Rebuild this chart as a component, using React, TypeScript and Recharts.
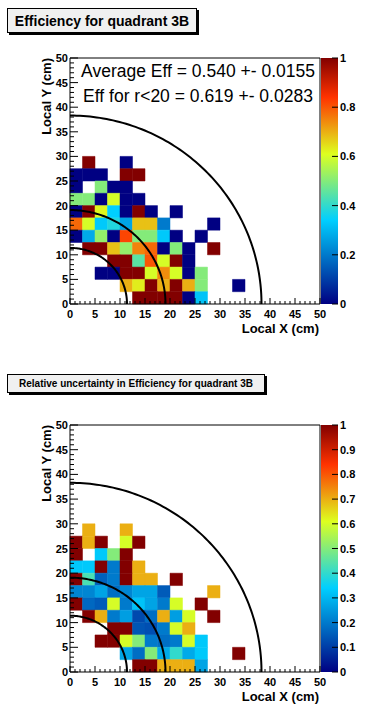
import React from "react";
import { ComposedChart, XAxis, YAxis, ReferenceArea, Line } from "recharts";

// --- Data ---

const N = null;
const BIN = 2.5; // cm per bin

// efficiency per 2.5 cm bin; rows from y=27.5..30 (top) down to y=0..2.5, columns from x=0
const effGrid: (number | null)[][] = [
  [N, 1, N, N, 0, N, N, N, N, N, N, N, N, N],
  [0, 0, 0, N, 1, 1, N, N, N, N, N, N, N, N],
  [0, N, 0.5, 0, 0, N, N, N, N, N, N, N, N, N],
  [0.5, 0.5, 0, 0.6, 0, 0, N, N, N, N, N, N, N, N],
  [0, 1, 0.62, 0.34, 0, 1, 0, N, 0, N, N, N, N, N],
  [0.78, 0.6, 0.33, 0.38, 0.27, 0.68, 0.68, 0.2, N, N, N, 0, N, N],
  [0, 0.28, 0.52, 0, 0.82, 0.5, 0.5, 0.33, 0, N, 0, N, N, N],
  [N, 1, 1, 0.68, 0.52, 0.75, 0.78, 0, 0.5, 0, N, 1, N, N],
  [N, N, N, 1, 1, 0.45, 0.8, 0.6, 1, 0, N, N, N, N],
  [N, N, 0, 0, 1, 1, 0.6, 0.74, 0.6, 0, 0.5, N, N, N],
  [N, N, N, N, 0.7, 0.63, 1, 0.7, 1, 0.7, 0.5, N, N, 0],
  [N, N, N, N, N, 1, 1, 1, 1, 0, 0.32, N, N, N],
];

// relative uncertainty, same binning
const uncGrid: (number | null)[][] = [
  [N, 0.7, N, N, 0.7, N, N, N, N, N, N, N, N, N],
  [1, 0.7, 1, N, 0.6, 1, N, N, N, N, N, N, N, N],
  [1, N, 0.33, 0.5, 1, N, N, N, N, N, N, N, N, N],
  [0.33, 0.33, 1, 0.2, 1, 0.7, N, N, N, N, N, N, N, N],
  [1, 0.43, 0.16, 0.2, 1, 0.7, 0.7, N, 1, N, N, N, N, N],
  [0.22, 0.22, 0.27, 0.18, 0.22, 0.27, 0.27, 0.15, N, N, N, 0.7, N, N],
  [1, 0.17, 0.15, 0.6, 0.2, 0.32, 0.27, 0.2, 0.6, N, 1, N, N, N],
  [N, 1, 0.7, 0.2, 0.26, 0.12, 0.18, 0.7, 0.26, 0.6, N, 1, N, N],
  [N, N, N, 1, 1, 0.14, 0.13, 0.2, 0.6, 0.7, N, N, N, N],
  [N, N, 1, 1, 0.6, 0.5, 0.2, 0.18, 0.2, 0.6, 0.33, N, N, N],
  [N, N, N, N, 0.27, 0.18, 0.5, 0.28, 0.4, 0.28, 0.33, N, N, 1],
  [N, N, N, N, N, 1, 1, 0.7, 0.7, 0.7, 0.27, N, N, N],
];

const arcRadii = [11.4, 19.1, 38.3];
const majorTicks = [0, 5, 10, 15, 20, 25, 30, 35, 40, 45, 50];
const effTicks = [0, 0.2, 0.4, 0.6, 0.8, 1];
const uncTicks = [0, 0.1, 0.2, 0.3, 0.4, 0.5, 0.6, 0.7, 0.8, 0.9, 1];
const statLines = ["Average Eff = 0.540 +- 0.0155", "Eff for r<20 = 0.619 +- 0.0283"];

// ROOT gradient palette
const palStops = [0, 0.34, 0.61, 0.84, 1];
const palRGB = [
  [0, 0, 130],
  [0, 207, 255],
  [222, 255, 31],
  [255, 51, 0],
  [130, 0, 0],
];

// --- Helpers ---

const axisTicks = majorTicks.flatMap((m, i) =>
  i === majorTicks.length - 1 ? [m] : [m, m + 1, m + 2, m + 3, m + 4]
);

function palColor(v: number) {
  let k = 0;
  while (k < palStops.length - 2 && v > palStops[k + 1]) k++;
  const t = Math.min(1, Math.max(0, (v - palStops[k]) / (palStops[k + 1] - palStops[k])));
  const c = palRGB[k].map((a, i) => Math.round(a + (palRGB[k + 1][i] - a) * t));
  return `rgb(${c[0]},${c[1]},${c[2]})`;
}

function toCells(grid: (number | null)[][]) {
  const top = grid.length - 1;
  const out: { x1: number; x2: number; y1: number; y2: number; v: number }[] = [];
  grid.forEach((row, r) =>
    row.forEach((v, c) => {
      if (v === null) return;
      const j = top - r;
      out.push({ x1: c * BIN, x2: (c + 1) * BIN, y1: j * BIN, y2: (j + 1) * BIN, v });
    })
  );
  return out;
}

function arcPoints(r: number) {
  const pts = [];
  for (let k = 0; k <= 90; k++) {
    const a = (k * Math.PI) / 180;
    pts.push({ x: r * Math.cos(a), y: r * Math.sin(a) });
  }
  return pts;
}

const XTick = (p: any) => {
  const v = p.payload.value;
  const major = v % 5 === 0;
  return (
    <g>
      <line x1={p.x} x2={p.x} y1={p.y} y2={p.y - (major ? 6 : 3)} stroke="#000" />
      {major && (
        <text x={p.x} y={p.y + 14} textAnchor="middle" fontSize={11} fontWeight="bold" fill="#000">
          {v}
        </text>
      )}
    </g>
  );
};

const YTick = (p: any) => {
  const v = p.payload.value;
  const major = v % 5 === 0;
  return (
    <g>
      <line x1={p.x} x2={p.x + (major ? 8 : 4)} y1={p.y} y2={p.y} stroke="#000" />
      {major && (
        <text x={p.x - 2} y={p.y + 4} textAnchor="end" fontSize={11} fontWeight="bold" fill="#000">
          {v}
        </text>
      )}
    </g>
  );
};

const CbTick = (p: any) => (
  <g>
    <line x1={p.x - 6} x2={p.x} y1={p.y} y2={p.y} stroke="#000" />
    <text x={p.x + 2} y={p.y + 4} textAnchor="start" fontSize={11} fontWeight="bold" fill="#000">
      {p.payload.value}
    </text>
  </g>
);

// --- Panel ---

function Panel(props: {
  top: number;
  height: number;
  plotBottom: number;
  grid: (number | null)[][];
  cbTicks: number[];
  title: string;
  titleBox: { left: number; top: number; width: number; height: number; size: number };
  stats?: string[];
}) {
  const { top, height, plotBottom, grid, cbTicks, title, titleBox, stats } = props;
  const cells = toCells(grid);
  const bottom = height - plotBottom;
  const cbData = cbTicks.map((v) => ({ x: v, y: v }));
  return (
    <div style={{ position: "absolute", left: 0, top, width: 381, height }}>
      <div style={{ position: "absolute", left: 0, top: 0 }}>
        <ComposedChart width={381} height={height} margin={{ top: 58, right: 61, bottom: bottom - 20, left: 40 }}>
          <XAxis
            type="number"
            dataKey="x"
            domain={[0, 50]}
            allowDataOverflow
            ticks={axisTicks}
            interval={0}
            height={20}
            tickSize={0}
            tickMargin={0}
            axisLine={false}
            tickLine={false}
            tick={XTick}
          />
          <YAxis
            type="number"
            domain={[0, 50]}
            allowDataOverflow
            ticks={axisTicks}
            interval={0}
            width={30}
            tickSize={0}
            tickMargin={0}
            axisLine={false}
            tickLine={false}
            tick={YTick}
          />
          {cells.map((c, i) => (
            <ReferenceArea
              key={`c${i}`}
              x1={c.x1}
              x2={c.x2}
              y1={c.y1}
              y2={c.y2}
              fill={palColor(c.v)}
              stroke={palColor(c.v)}
              strokeWidth={0.5}
              fillOpacity={1}
            />
          ))}
          <ReferenceArea x1={0} x2={50} y1={0} y2={50} fill="none" fillOpacity={0} stroke="#000" strokeWidth={1} />
          {arcRadii.map((r) => (
            <Line
              key={`arc${r}`}
              data={arcPoints(r)}
              dataKey="y"
              type="linear"
              stroke="#000"
              strokeWidth={2}
              dot={false}
              activeDot={false}
              isAnimationActive={false}
            />
          ))}
        </ComposedChart>
      </div>
      <div style={{ position: "absolute", left: 0, top: 0 }}>
        <ComposedChart width={381} height={height} margin={{ top: 58, right: 13, bottom, left: 321 }}>
          <XAxis type="number" dataKey="x" domain={[0, 1]} hide />
          <YAxis
            type="number"
            orientation="right"
            domain={[0, 1]}
            ticks={cbTicks}
            interval={0}
            width={30}
            tickSize={0}
            tickMargin={0}
            axisLine={false}
            tickLine={false}
            tick={CbTick}
          />
          <ReferenceArea x1={0} x2={1} y1={0} y2={1} fill="url(#rootPalette)" fillOpacity={1} />
          <Line data={cbData} dataKey="y" stroke="none" dot={false} activeDot={false} isAnimationActive={false} />
        </ComposedChart>
      </div>
      <svg width={381} height={height} style={{ position: "absolute", left: 0, top: 0, pointerEvents: "none" }}>
        <text x={319} y={plotBottom + 29} textAnchor="end" fontSize={13} fontWeight="bold" fill="#000">
          Local X (cm)
        </text>
        <text
          x={51}
          y={58}
          transform="rotate(-90 51 58)"
          textAnchor="end"
          fontSize={13}
          fontWeight="bold"
          fill="#000"
        >
          Local Y (cm)
        </text>
        {stats &&
          stats.map((s, i) => (
            <text key={s} x={198} y={77 + i * 25} textAnchor="middle" fontSize={17.5} fill="#000">
              {s}
            </text>
          ))}
      </svg>
      <div
        style={{
          position: "absolute",
          left: titleBox.left,
          top: titleBox.top,
          width: titleBox.width,
          height: titleBox.height,
          boxSizing: "border-box",
          border: "1px solid #000",
          background: "#f0f0f0",
          boxShadow: "2px 2px 0 #000",
          display: "flex",
          alignItems: "center",
          justifyContent: "center",
          fontSize: titleBox.size,
          fontWeight: "bold",
          whiteSpace: "nowrap",
        }}
      >
        {title}
      </div>
    </div>
  );
}

export default function App() {
  return (
    <div
      style={{
        position: "absolute",
        left: 0,
        top: 0,
        width: 381,
        height: 713,
        background: "#fff",
        fontFamily: "'Liberation Sans', Arial, sans-serif",
        color: "#000",
      }}
    >
      <svg width={0} height={0} style={{ position: "absolute" }}>
        <defs>
          <linearGradient id="rootPalette" x1="0" y1="1" x2="0" y2="0">
            {palStops.map((s, i) => (
              <stop key={s} offset={s} stopColor={`rgb(${palRGB[i].join(",")})`} />
            ))}
          </linearGradient>
        </defs>
      </svg>
      <Panel
        top={0}
        height={345}
        plotBottom={304}
        grid={effGrid}
        cbTicks={effTicks}
        title="Efficiency for quadrant 3B"
        titleBox={{ left: 7, top: 8, width: 190, height: 25, size: 14 }}
        stats={statLines}
      />
      <Panel
        top={367}
        height={346}
        plotBottom={305}
        grid={uncGrid}
        cbTicks={uncTicks}
        title="Relative uncertainty in Efficiency for quadrant 3B"
        titleBox={{ left: 7, top: 7, width: 258, height: 19, size: 10 }}
      />
    </div>
  );
}
